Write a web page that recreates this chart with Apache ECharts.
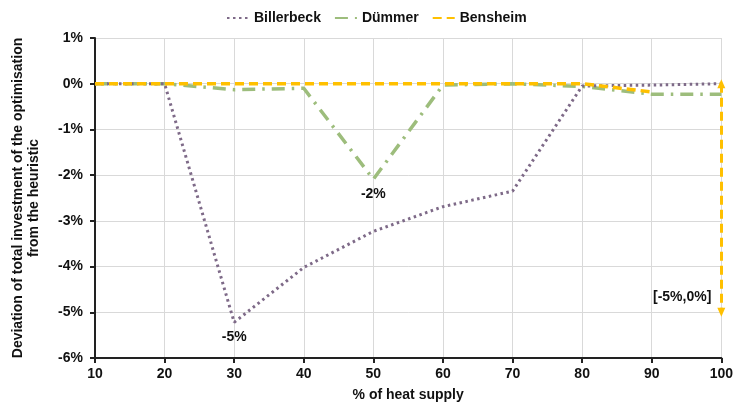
<!DOCTYPE html>
<html>
<head>
<meta charset="utf-8">
<script src="https://cdn.jsdelivr.net/npm/echarts@6/dist/echarts.min.js"></script>
<style>
  html, body { margin: 0; padding: 0; background: #fff; }
  #chart { width: 736px; height: 408px; }
</style>
</head>
<body>
<div id="chart"></div>
<script>
// Share of heat supply (%)
const heatSupply = [10, 20, 30, 40, 50, 60, 70, 80, 90, 100];

// Deviation of total investment (optimisation vs. heuristic), in %
const billerbeck = [0, 0, -5.22, -4.02, -3.23, -2.69, -2.35, -0.05, -0.03, 0];
const duemmer    = [0, 0, -0.13, -0.10, -2.09, -0.03, 0, -0.06, -0.23, -0.23];
const bensheim   = [0, 0, 0, 0, 0, 0, 0, 0, -0.18, null];

// Bensheim range at 100 % heat supply
const bensheimRangeX = 100;
const bensheimRange = [-5, 0];

const yTicks = { min: -6, max: 1, interval: 1 };
const xTicks = { min: 10, max: 100, interval: 10 };

const FONT = 'Liberation Sans, Arial, sans-serif';
const TEXT = '#111';

// Pair x/y values; the lowest point of a series gets a rounded value label
function toPoints(values, labelMin) {
  let minIdx = -1;
  if (labelMin) {
    let m = Infinity;
    values.forEach((v, i) => { if (v != null && v < m) { m = v; minIdx = i; } });
  }
  return values.map((v, i) => {
    const p = { value: [heatSupply[i], v] };
    if (i === minIdx) {
      p.label = {
        show: true, position: 'bottom', distance: 8,
        formatter: (d) => Math.round(d.value[1]) + '%',
        fontSize: 14, fontWeight: 'bold', color: TEXT
      };
    }
    return p;
  });
}

const chart = echarts.init(document.getElementById('chart'));
chart.setOption({
  animation: false,
  textStyle: { fontFamily: FONT, fontWeight: 'bold' },
  legend: {
    top: 6,
    left: 221,
    itemWidth: 22,
    itemHeight: 10,
    itemGap: 13,
    itemStyle: { opacity: 0 },
    textStyle: { fontSize: 14, color: TEXT, fontWeight: 'bold' },
    data: ['Billerbeck', 'Dümmer', 'Bensheim']
  },
  grid: { left: 95, right: 14, top: 38, bottom: 50 },
  xAxis: {
    type: 'value',
    min: xTicks.min, max: xTicks.max, interval: xTicks.interval,
    name: '% of heat supply',
    nameLocation: 'middle',
    nameGap: 30,
    nameTextStyle: { fontSize: 14, color: TEXT, fontWeight: 'bold' },
    axisLine: { show: true, onZero: false, lineStyle: { color: '#222', width: 2 } },
    axisTick: { show: true, length: 5, lineStyle: { color: '#222', width: 2 } },
    axisLabel: { fontSize: 14, color: TEXT, fontWeight: 'bold', margin: 9 },
    splitLine: { show: true, lineStyle: { color: '#d9d9d9', width: 1 } }
  },
  yAxis: {
    type: 'value',
    min: yTicks.min, max: yTicks.max, interval: yTicks.interval,
    name: 'Deviation of total investment of the optimisation\nfrom the heuristic',
    nameLocation: 'middle',
    nameRotate: 90,
    nameGap: 53,
    nameTextStyle: { fontSize: 14, color: TEXT, fontWeight: 'bold', lineHeight: 16 },
    axisLine: { show: true, onZero: false, lineStyle: { color: '#222', width: 2 } },
    axisTick: { show: true, length: 5, lineStyle: { color: '#222', width: 2 } },
    axisLabel: { fontSize: 14, color: TEXT, fontWeight: 'bold', margin: 12, formatter: '{value}%' },
    splitLine: { show: true, lineStyle: { color: '#d9d9d9', width: 1 } }
  },
  series: [
    {
      name: 'Billerbeck',
      type: 'line',
      data: toPoints(billerbeck, true),
      symbol: 'circle',
      symbolSize: 0,
      showSymbol: true,
      color: '#7e6a88',
      lineStyle: { color: '#7e6a88', width: 3, type: [2.5, 3.5] },
      z: 3
    },
    {
      name: 'Dümmer',
      type: 'line',
      data: toPoints(duemmer, true),
      symbol: 'circle',
      symbolSize: 0,
      showSymbol: true,
      color: '#9dbd7c',
      lineStyle: { color: '#9dbd7c', width: 3.5, type: [13, 7, 2.5, 7] },
      z: 2
    },
    {
      name: 'Bensheim',
      type: 'line',
      data: toPoints(bensheim, false),
      symbol: 'none',
      color: '#ffc000',
      lineStyle: { color: '#ffc000', width: 3.5, type: [9, 5] },
      z: 4,
      markLine: {
        silent: true,
        symbol: ['triangle', 'triangle'],
        symbolSize: [8, 9],
        lineStyle: { color: '#ffc000', width: 3, type: [9, 5] },
        label: { show: false },
        data: [[
          { coord: [bensheimRangeX, bensheimRange[1]] },
          { coord: [bensheimRangeX, bensheimRange[0]] }
        ]]
      },
      markPoint: {
        silent: true,
        symbol: 'circle',
        symbolSize: 0,
        label: {
          show: true,
          position: 'left',
          distance: 10,
          offset: [0, -15],
          formatter: '[' + bensheimRange[0] + '%,' + bensheimRange[1] + '%]',
          fontSize: 14, fontWeight: 'bold', color: TEXT
        },
        data: [{ coord: [bensheimRangeX, bensheimRange[0]] }]
      }
    }
  ]
});
</script>
</body>
</html>
